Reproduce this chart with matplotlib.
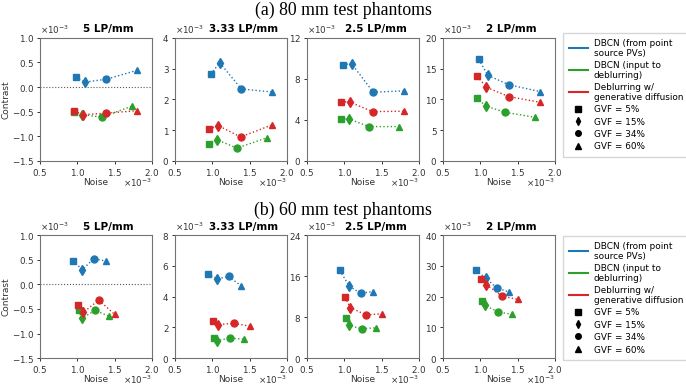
import matplotlib
matplotlib.use("Agg")
import matplotlib.pyplot as plt
from matplotlib.lines import Line2D
import numpy as np

SCALE = 1e-3  # all values below are in units of 1e-3

methods = ["DBCN (from point\nsource PVs)", "DBCN (input to\ndeblurring)",
           "Deblurring w/\ngenerative diffusion"]
colors = ["#1f77b4", "#2ca02c", "#d62728"]
gvf_labels = ["GVF = 5%", "GVF = 15%", "GVF = 34%", "GVF = 60%"]
gvf_markers = ["s", "d", "o", "^"]
freqs = ["5 LP/mm", "3.33 LP/mm", "2.5 LP/mm", "2 LP/mm"]

# ---- (a) 80 mm phantoms ----
noise_80 = [
    [0.98, 1.10, 1.39, 1.80],   # point source
    [0.95, 1.07, 1.33, 1.73],   # input to deblurring
    [0.96, 1.08, 1.38, 1.80],   # deblurred
]
contrast_80 = [
    [[0.20, 0.10, 0.16, 0.34], [-0.50, -0.56, -0.61, -0.39], [-0.49, -0.56, -0.53, -0.48]],
    [[2.82, 3.19, 2.34, 2.24], [0.55, 0.68, 0.42, 0.75], [1.03, 1.15, 0.78, 1.17]],
    [[9.40, 9.46, 6.70, 6.83], [4.13, 4.07, 3.35, 3.35], [5.79, 5.72, 4.81, 4.85]],
    [[16.5, 13.9, 12.36, 11.27], [10.3, 8.94, 7.91, 7.10], [13.77, 11.98, 10.46, 9.54]],
]
ylims_80 = [(-1.5, 1.0), (0, 4), (0, 12), (0, 20)]
yticks_80 = [np.arange(-1.5, 1.01, 0.5), [0, 1, 2, 3, 4], [0, 4, 8, 12], [0, 5, 10, 15, 20]]

# ---- (b) 60 mm phantoms ----
noise_60 = [
    [0.94, 1.07, 1.22, 1.39],
    [1.02, 1.06, 1.24, 1.43],
    [1.01, 1.08, 1.29, 1.50],
]
contrast_60 = [
    [[0.47, 0.30, 0.52, 0.47], [-0.53, -0.69, -0.53, -0.65], [-0.41, -0.57, -0.32, -0.61]],
    [[5.46, 5.16, 5.31, 4.69], [1.33, 1.14, 1.31, 1.23], [2.41, 2.19, 2.26, 2.09]],
    [[17.1, 14.0, 12.65, 13.0], [7.9, 6.4, 5.74, 5.94], [11.9, 9.87, 8.45, 8.65]],
    [[28.5, 26.1, 22.8, 21.5], [18.6, 17.2, 15.05, 14.2], [25.6, 23.9, 20.2, 19.1]],
]
ylims_60 = [(-1.5, 1.0), (0, 8), (0, 24), (0, 40)]
yticks_60 = [np.arange(-1.5, 1.01, 0.5), [0, 2, 4, 6, 8], [0, 8, 16, 24], [0, 10, 20, 30, 40]]

fig = plt.figure(figsize=(6.86, 3.86), dpi=100)
lefts = [0.0583, 0.2551, 0.4475, 0.6458]
width = 0.163
height = 0.319
FS = 6.3


def draw_row(bottom, noise, contrast, ylims, yticks):
    for k in range(4):
        ax = fig.add_axes([lefts[k], bottom, width, height])
        for m in range(3):
            xs = np.array(noise[m]) * SCALE
            ys = np.array(contrast[k][m]) * SCALE
            ax.plot(xs, ys, ls=":", color=colors[m], lw=1.0, zorder=2)
            for g in range(4):
                ax.plot(xs[g], ys[g], marker=gvf_markers[g], color=colors[m],
                        ms=5, ls="none", zorder=3)
        if k == 0:
            ax.axhline(0, color="0.35", ls=":", lw=0.8, zorder=1)
            ax.set_ylabel("Contrast", fontsize=6.5, labelpad=1, color="0.2")
        ax.set_xlim(0.5 * SCALE, 2.0 * SCALE)
        ax.set_xticks(np.array([0.5, 1.0, 1.5, 2.0]) * SCALE)
        ax.set_ylim(ylims[k][0] * SCALE, ylims[k][1] * SCALE)
        ax.set_yticks(np.array(yticks[k]) * SCALE)
        ax.ticklabel_format(axis="both", style="sci", scilimits=(-3, -3), useMathText=True)
        ax.xaxis.OFFSETTEXTPAD = -0.8
        ax.tick_params(labelsize=FS, length=2.5, width=0.7, pad=1.5, colors="0.2")
        for off in (ax.xaxis.get_offset_text(), ax.yaxis.get_offset_text()):
            off.set_fontsize(FS)
            off.set_color("0.2")
        for sp in ax.spines.values():
            sp.set_color("0.45")
            sp.set_linewidth(0.8)
        ax.set_xlabel("Noise", fontsize=6.5, labelpad=0.5, color="0.2")
        ax.set_title(freqs[k], fontsize=7.5, fontweight="bold", x=0.615, y=1.0, pad=4)


def add_legend(top):
    handles = [Line2D([0], [0], color=c, lw=1.5) for c in colors]
    handles += [Line2D([0], [0], color="black", marker=mk, ls="none", ms=4)
                for mk in gvf_markers]
    fig.legend(handles, methods + gvf_labels, loc="upper left",
               bbox_to_anchor=(0.821, top), borderaxespad=0, fontsize=6.4,
               frameon=True, handlelength=2.2, handleheight=1.25,
               labelspacing=0.3, borderpad=0.6,
               handletextpad=0.65, fancybox=False, edgecolor="0.8")


draw_row(0.583, noise_80, contrast_80, ylims_80, yticks_80)
draw_row(0.072, noise_60, contrast_60, ylims_60, yticks_60)
add_legend(0.914)
add_legend(0.388)

fig.text(0.5, 0.972, "(a) 80 mm test phantoms", ha="center", va="center",
         fontsize=12.8, family="Liberation Serif")
fig.text(0.5, 0.454, "(b) 60 mm test phantoms", ha="center", va="center",
         fontsize=12.8, family="Liberation Serif")

fig.savefig("out.png", dpi=100)
